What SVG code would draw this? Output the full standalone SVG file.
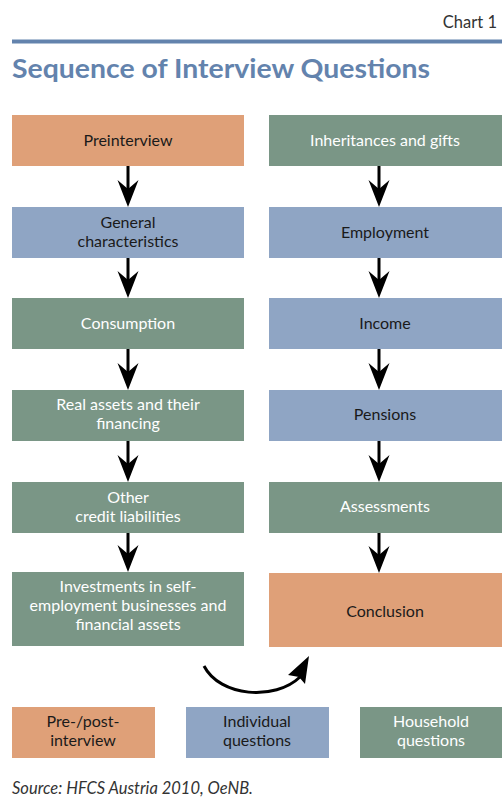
<svg xmlns="http://www.w3.org/2000/svg" width="502" height="804" viewBox="0 0 502 804">
  <style>
    .t { font-family: "Lato", "Open Sans", "Liberation Sans", sans-serif; font-size: 16px; text-anchor: middle; }
    .dark { fill: #1a1a1a; }
    .light { fill: #ffffff; }
    .pre { fill: #DFA078; }
    .ind { fill: #8FA5C4; }
    .hh { fill: #7A9686; }
    .conn { stroke: #000; stroke-width: 3; fill: none; }
  </style>
  <defs>
    <!-- downward arrowhead, tip 27 below its origin -->
    <path id="ah" d="M-10.5,0 L0,27 L10.5,0 L0,9 Z" fill="#000"/>
  </defs>

  <rect width="502" height="804" fill="#fff"/>

  <!-- header -->
  <text x="497" y="28" font-family="Lato, 'Open Sans', sans-serif" font-size="16.5" fill="#333" text-anchor="end">Chart 1</text>
  <rect x="12" y="39.5" width="490" height="4" fill="#6383AD"/>
  <text x="12" y="78" font-family="Lato, 'Open Sans', sans-serif" font-size="26" font-weight="bold" fill="#6383AD" textLength="418" lengthAdjust="spacingAndGlyphs">Sequence of Interview Questions</text>

  <!-- left column -->
  <g id="preinterview">
    <rect class="pre" x="12" y="115" width="232" height="51"/>
    <text class="t dark" x="128" y="146">Preinterview</text>
  </g>
  <g id="general">
    <rect class="ind" x="12" y="207" width="232" height="51"/>
    <text class="t dark" x="128" y="228">General</text>
    <text class="t dark" x="128" y="247">characteristics</text>
  </g>
  <g id="consumption">
    <rect class="hh" x="12" y="298" width="232" height="51"/>
    <text class="t light" x="128" y="329">Consumption</text>
  </g>
  <g id="real-assets">
    <rect class="hh" x="12" y="390" width="232" height="51"/>
    <text class="t light" x="128" y="410">Real assets and their</text>
    <text class="t light" x="128" y="429">financing</text>
  </g>
  <g id="other-credit">
    <rect class="hh" x="12" y="482" width="232" height="51"/>
    <text class="t light" x="128" y="503">Other</text>
    <text class="t light" x="128" y="522">credit liabilities</text>
  </g>
  <g id="investments">
    <rect class="hh" x="12" y="572" width="232" height="74"/>
    <text class="t light" x="128" y="592">Investments in self-</text>
    <text class="t light" x="128" y="611">employment businesses and</text>
    <text class="t light" x="128" y="630">financial assets</text>
  </g>

  <!-- right column -->
  <g id="inheritances">
    <rect class="hh" x="269" y="115" width="233" height="51"/>
    <text class="t light" x="385" y="146">Inheritances and gifts</text>
  </g>
  <g id="employment">
    <rect class="ind" x="269" y="207" width="233" height="51"/>
    <text class="t dark" x="385" y="238">Employment</text>
  </g>
  <g id="income">
    <rect class="ind" x="269" y="298" width="233" height="51"/>
    <text class="t dark" x="385" y="329">Income</text>
  </g>
  <g id="pensions">
    <rect class="ind" x="269" y="390" width="233" height="51"/>
    <text class="t dark" x="385" y="420">Pensions</text>
  </g>
  <g id="assessments">
    <rect class="hh" x="269" y="482" width="233" height="51"/>
    <text class="t light" x="385" y="512">Assessments</text>
  </g>
  <g id="conclusion">
    <rect class="pre" x="269" y="573" width="233" height="74"/>
    <text class="t dark" x="385" y="617">Conclusion</text>
  </g>

  <!-- connectors -->
  <g id="connectors">
    <line class="conn" x1="128" y1="166" x2="128" y2="190"/>
    <use href="#ah" x="128" y="180"/>
    <line class="conn" x1="128" y1="258" x2="128" y2="282"/>
    <use href="#ah" x="128" y="271"/>
    <line class="conn" x1="128" y1="349" x2="128" y2="374"/>
    <use href="#ah" x="128" y="363"/>
    <line class="conn" x1="128" y1="441" x2="128" y2="466"/>
    <use href="#ah" x="128" y="455"/>
    <line class="conn" x1="128" y1="533" x2="128" y2="556"/>
    <use href="#ah" x="128" y="545"/>

    <line class="conn" x1="379" y1="166" x2="379" y2="190"/>
    <use href="#ah" x="379" y="180"/>
    <line class="conn" x1="379" y1="258" x2="379" y2="282"/>
    <use href="#ah" x="379" y="271"/>
    <line class="conn" x1="379" y1="349" x2="379" y2="374"/>
    <use href="#ah" x="379" y="363"/>
    <line class="conn" x1="379" y1="441" x2="379" y2="466"/>
    <use href="#ah" x="379" y="455"/>
    <line class="conn" x1="379" y1="533" x2="379" y2="557"/>
    <use href="#ah" x="379" y="546"/>

    <!-- bend from left column to Conclusion -->
    <path class="conn" stroke-width="2.5" d="M204,666 C220,697 275,701 300,677"/>
    <path d="M309,656 L305,684 L299,677 L288,675 Z" fill="#000"/>
  </g>

  <!-- legend -->
  <g id="legend-pre">
    <rect class="pre" x="12" y="707" width="143" height="51"/>
    <text class="t dark" x="83" y="727">Pre-/post-</text>
    <text class="t dark" x="83" y="746">interview</text>
  </g>
  <g id="legend-individual">
    <rect class="ind" x="186" y="707" width="143" height="51"/>
    <text class="t dark" x="257" y="727">Individual</text>
    <text class="t dark" x="257" y="746">questions</text>
  </g>
  <g id="legend-household">
    <rect class="hh" x="360" y="707" width="142" height="51"/>
    <text class="t light" x="431" y="727">Household</text>
    <text class="t light" x="431" y="746">questions</text>
  </g>

  <text x="12" y="794" font-family="Lato, 'Open Sans', sans-serif" font-size="16.5" font-style="italic" fill="#333">Source: HFCS Austria 2010, OeNB.</text>
</svg>
